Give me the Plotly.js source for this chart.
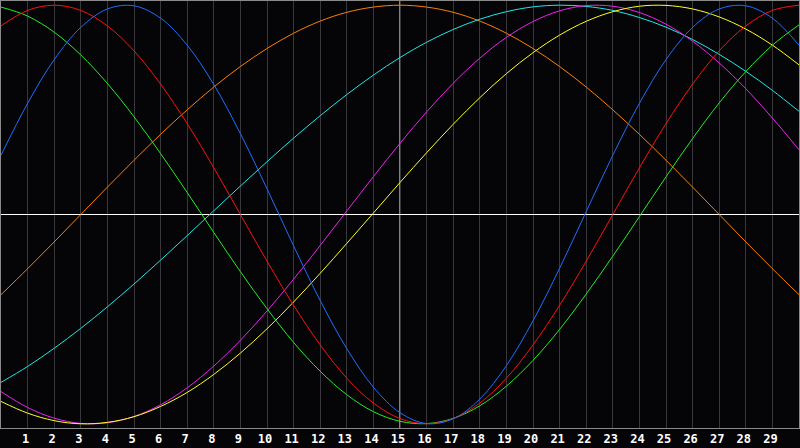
<!DOCTYPE html>
<html>
<head>
<meta charset="utf-8">
<script src="https://cdn.plot.ly/plotly-3.0.1.min.js"></script>
<style>
  html, body { margin: 0; padding: 0; background: #050508; }
  #chart { width: 800px; height: 448px; }
</style>
</head>
<body>
<div id="chart"></div>
<script>
// days shown on the chart
const days = [0,1,2,3,4,5,6,7,8,9,10,11,12,13,14,15,16,17,18,19,20,21,22,23,24,25,26,27,28,29,30];
const dayLabels = [1,2,3,4,5,6,7,8,9,10,11,12,13,14,15,16,17,18,19,20,21,22,23,24,25,26,27,28,29];
const today = 15;

// cycle values (-1 .. 1)
const physical = [0.283,0.531,0.740,0.894,0.982,0.997,0.938,0.809,0.621,0.386,0.123,-0.150,-0.411,-0.641,-0.825,-0.947,-0.999,-0.976,-0.882,-0.722,-0.508,-0.257,0.014,0.283,0.531,0.740,0.894,0.982,0.997,0.938,0.809];
const emotional = [0.901,0.975,1.000,0.975,0.901,0.782,0.623,0.434,0.223,0.000,-0.223,-0.434,-0.623,-0.782,-0.901,-0.975,-1.000,-0.975,-0.901,-0.782,-0.623,-0.434,-0.223,0.000,0.223,0.434,0.623,0.782,0.901,0.975,1.000];
const intellectual = [0.991,0.948,0.871,0.762,0.626,0.467,0.291,0.105,-0.086,-0.273,-0.450,-0.611,-0.749,-0.861,-0.942,-0.988,-0.999,-0.974,-0.914,-0.820,-0.697,-0.549,-0.380,-0.199,-0.010,0.180,0.363,0.533,0.683,0.809,0.906];
const intuitive = [-0.846,-0.922,-0.973,-0.998,-0.995,-0.965,-0.909,-0.828,-0.724,-0.601,-0.461,-0.309,-0.148,0.017,0.181,0.340,0.490,0.627,0.747,0.846,0.922,0.973,0.998,0.995,0.965,0.909,0.828,0.724,0.601,0.461,0.309];
const aesthetic = [-0.893,-0.949,-0.985,-1.000,-0.993,-0.966,-0.917,-0.850,-0.764,-0.662,-0.546,-0.418,-0.281,-0.138,0.007,0.153,0.295,0.431,0.558,0.673,0.773,0.857,0.923,0.969,0.995,0.999,0.982,0.944,0.886,0.809,0.715];
const awareness = [-0.383,-0.259,-0.131,0.000,0.131,0.259,0.383,0.500,0.609,0.707,0.793,0.866,0.924,0.966,0.991,1.000,0.991,0.966,0.924,0.866,0.793,0.707,0.609,0.500,0.383,0.259,0.131,0.000,-0.131,-0.259,-0.383];
const spiritual = [-0.802,-0.726,-0.639,-0.544,-0.441,-0.332,-0.218,-0.101,0.018,0.136,0.252,0.365,0.472,0.573,0.666,0.750,0.823,0.884,0.933,0.969,0.992,1.000,0.994,0.975,0.941,0.895,0.836,0.765,0.684,0.593,0.493];

const series = [
  { name: 'Awareness', y: awareness, color: '#ff8000' },
  { name: 'Spiritual', y: spiritual, color: '#22e6e6' },
  { name: 'Intuitive', y: intuitive, color: '#ee22ee' },
  { name: 'Aesthetic', y: aesthetic, color: '#ffff22' },
  { name: 'Intellectual', y: intellectual, color: '#22ee22' },
  { name: 'Emotional', y: emotional, color: '#ff1010' },
  { name: 'Physical', y: physical, color: '#1e6eff' }
];

const traces = series.map(s => ({
  x: days,
  y: s.y,
  name: s.name,
  type: 'scatter',
  mode: 'lines',
  line: { color: s.color, width: 1, shape: 'spline' },
  hoverinfo: 'skip'
}));

Plotly.newPlot('chart', traces, {
  width: 800,
  height: 448,
  margin: { l: 1, r: 1, t: 1, b: 20 },
  paper_bgcolor: '#050508',
  plot_bgcolor: '#050508',
  showlegend: false,
  xaxis: {
    range: [0, 30],
    tickvals: dayLabels,
    ticktext: dayLabels.map(String),
    ticks: '',
    ticklabelshift: -2,
    tickfont: { family: 'DejaVu Sans Mono', size: 12, color: '#ffffff', weight: 'bold' },
    showgrid: true,
    gridcolor: '#38383c',
    gridwidth: 1,
    zeroline: false,
    showline: true,
    linecolor: '#8a8a8a',
    linewidth: 1,
    mirror: true,
    fixedrange: true
  },
  yaxis: {
    range: [-1.02, 1.02],
    showticklabels: false,
    ticks: '',
    showgrid: false,
    zeroline: true,
    zerolinecolor: '#ffffff',
    zerolinewidth: 1,
    showline: true,
    linecolor: '#8a8a8a',
    linewidth: 1,
    mirror: true,
    fixedrange: true
  },
  shapes: [{
    type: 'line', xref: 'x', yref: 'paper',
    x0: today, x1: today, y0: 0, y1: 1,
    line: { color: '#ffffff', width: 1 },
    layer: 'below'
  }]
}, { displayModeBar: false, staticPlot: true });
</script>
</body>
</html>
